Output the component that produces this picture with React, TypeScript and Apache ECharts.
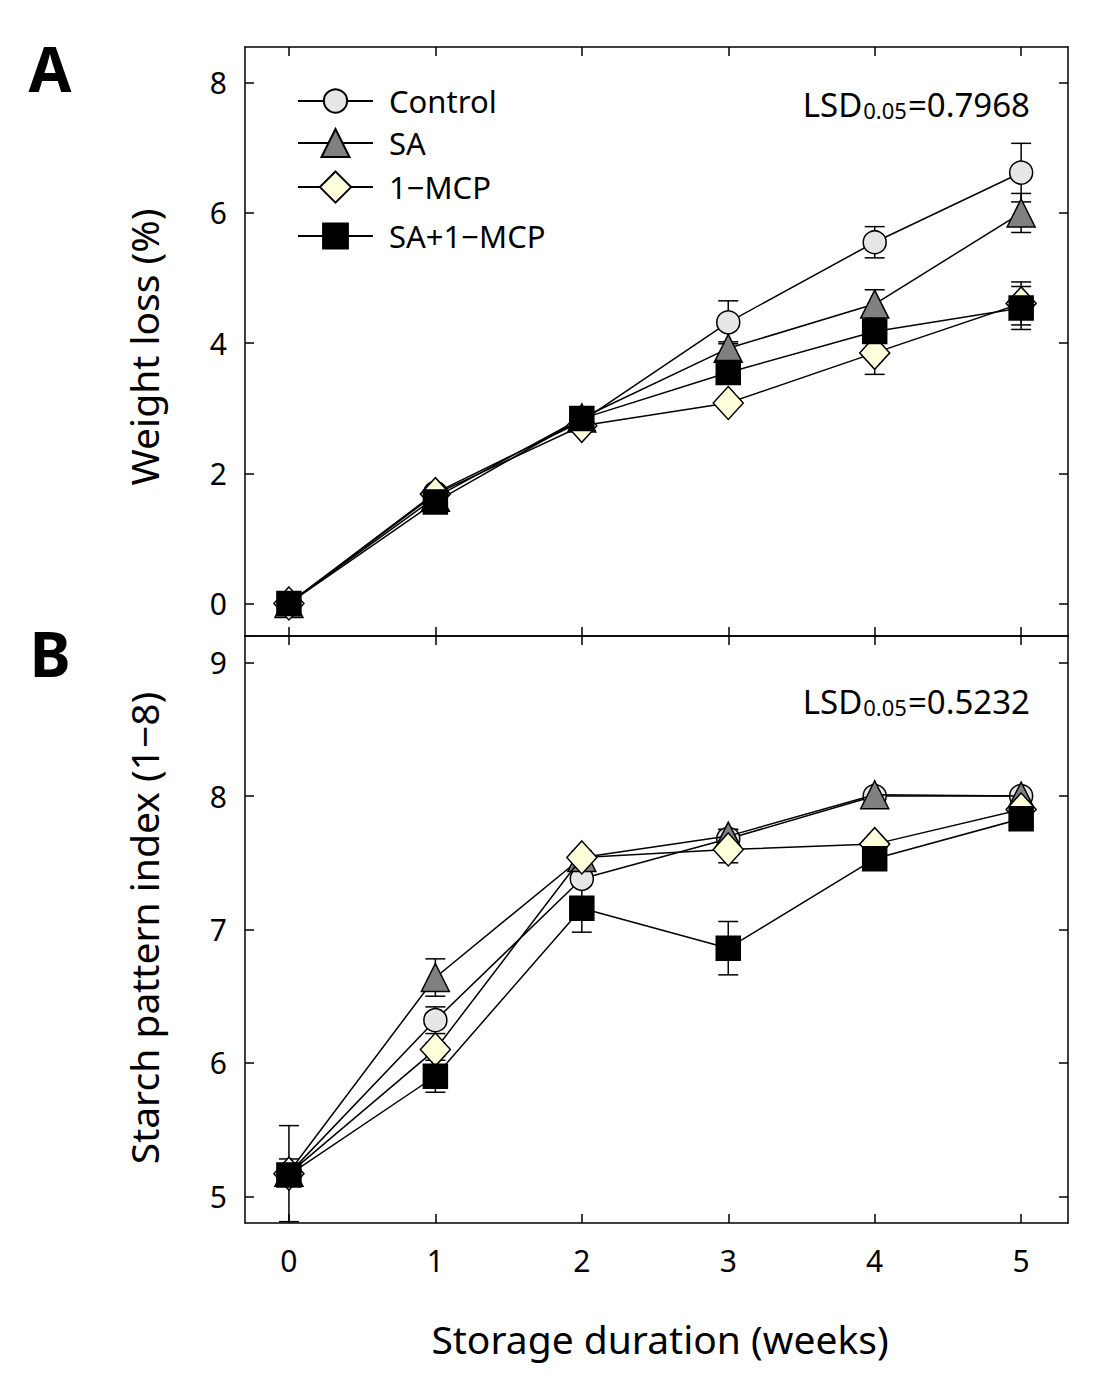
import React, { useEffect, useRef } from "react";
import * as echarts from "echarts";

const weeks = [0, 1, 2, 3, 4, 5];
const seriesNames = ["Control", "SA", "1\u2212MCP", "SA+1\u2212MCP"];

// Panel A: weight loss (%)
const wlControl = [0, 1.7, 2.8, 4.32, 5.55, 6.62];
const wlSA = [0, 1.63, 2.85, 3.92, 4.6, 6.0];
const wlMCP = [0, 1.68, 2.73, 3.08, 3.85, 4.61];
const wlSAMCP = [0, 1.56, 2.84, 3.55, 4.18, 4.54];
const wlControlErr = [0.05, 0.05, 0.05, 0.33, 0.24, 0.45];
const wlSAErr = [0.05, 0.05, 0.05, 0.1, 0.22, 0.3];
const wlMCPErr = [0.05, 0.05, 0.05, 0.05, 0.33, 0.33];
const wlSAMCPErr = [0.05, 0.05, 0.05, 0.15, 0.1, 0.33];

// Panel B: starch pattern index (1-8)
const spControl = [5.17, 6.32, 7.38, 7.68, 8.0, 8.0];
const spSA = [5.18, 6.64, 7.54, 7.7, 8.01, 8.0];
const spMCP = [5.17, 6.1, 7.54, 7.6, 7.64, 7.9];
const spSAMCP = [5.16, 5.9, 7.16, 6.86, 7.53, 7.83];
const spControlErr = [0.36, 0.1, 0.05, 0.07, 0.02, 0.02];
const spSAErr = [0.1, 0.14, 0.05, 0.05, 0.02, 0.02];
const spMCPErr = [0.05, 0.05, 0.05, 0.1, 0.03, 0.03];
const spSAMCPErr = [0.05, 0.12, 0.18, 0.2, 0.05, 0.03];

const xTicks = [0, 1, 2, 3, 4, 5];
const wlTicks = [0, 2, 4, 6, 8];
const spTicks = [5, 6, 7, 8, 9];

const lsdA = "0.7968";
const lsdB = "0.5232";

const FONT = "Noto Sans";

const styles = [
  { symbol: "circle", size: 23, fill: "#e6e6e6", legendH: 29 },
  { symbol: "triangle", size: 28, fill: "#808080", legendH: 35 },
  { symbol: "diamond", size: [30, 33], fill: "#ffffdc", legendH: 39 },
  { symbol: "rect", size: 24, fill: "#000000", legendH: 31 },
];

export default function App() {
  const ref = useRef<HTMLDivElement>(null);

  useEffect(() => {
    if (!ref.current) return;
    const chart = echarts.init(ref.current, null, { renderer: "svg" });

    const wlVals = [wlControl, wlSA, wlMCP, wlSAMCP];
    const wlErrs = [wlControlErr, wlSAErr, wlMCPErr, wlSAMCPErr];
    const spVals = [spControl, spSA, spMCP, spSAMCP];
    const spErrs = [spControlErr, spSAErr, spMCPErr, spSAMCPErr];

    const axisLine = { show: true, onZero: false, lineStyle: { color: "#000", width: 1.5 } };
    const tickStyle = { color: "#000", width: 1.5 };
    const labelStyle = { color: "#000", fontSize: 30, fontFamily: FONT };

    const xMin = -0.3;
    const xMax = 5.32;

    const mkX = (grid: number, pos: "bottom" | "top", showLabel: boolean) => ({
      type: "value",
      gridIndex: grid,
      position: pos,
      min: xMin,
      max: xMax,
      axisLine,
      axisTick: { show: true, inside: true, length: 9, lineStyle: tickStyle, customValues: xTicks },
      axisLabel: { show: showLabel, ...labelStyle, margin: 22, customValues: xTicks },
      splitLine: { show: false },
    });
    const mkY = (grid: number, pos: "left" | "right", min: number, max: number, ticks: number[], showLabel: boolean) => ({
      type: "value",
      gridIndex: grid,
      position: pos,
      min,
      max,
      axisLine,
      axisTick: { show: true, inside: true, length: 9, lineStyle: tickStyle, customValues: ticks },
      axisLabel: { show: showLabel, ...labelStyle, margin: 18, customValues: ticks },
      splitLine: { show: false },
    });

    const errSeries = (vals: number[][], errs: number[][], xi: number, yi: number) =>
      vals.map((v, si) => ({
        type: "custom",
        xAxisIndex: xi,
        yAxisIndex: yi,
        z: 1,
        silent: true,
        encode: { x: 0, y: 1 },
        data: weeks.map((w, i) => [w, v[i], errs[si][i]]),
        renderItem: (params: any, api: any) => {
          const x = api.value(0);
          const y = api.value(1);
          const e = api.value(2);
          const top = api.coord([x, y + e]);
          const bot = api.coord([x, y - e]);
          const cw = 10;
          const st = { stroke: "#000", lineWidth: 1.5 };
          return {
            type: "group",
            children: [
              { type: "line", shape: { x1: top[0], y1: top[1], x2: bot[0], y2: bot[1] }, style: st },
              { type: "line", shape: { x1: top[0] - cw, y1: top[1], x2: top[0] + cw, y2: top[1] }, style: st },
              { type: "line", shape: { x1: bot[0] - cw, y1: bot[1], x2: bot[0] + cw, y2: bot[1] }, style: st },
            ],
          };
        },
      }));

    const lineSeries = (vals: number[][], xi: number, yi: number) =>
      vals.map((v, si) => ({
        type: "line",
        name: seriesNames[si],
        xAxisIndex: xi,
        yAxisIndex: yi,
        z: 2 + si,
        data: weeks.map((w, i) => [w, v[i]]),
        symbol: styles[si].symbol,
        symbolSize: styles[si].size,
        showAllSymbol: true,
        lineStyle: { color: "#000", width: 1.5 },
        itemStyle: { color: styles[si].fill, borderColor: "#000", borderWidth: 1.5 },
        emphasis: { disabled: true },
      }));

    const legendCenters = [100, 145, 190, 236];
    const legends = seriesNames.map((n, i) => ({
      data: [n],
      orient: "vertical",
      left: 297,
      top: legendCenters[i] - styles[i].legendH / 2,
      padding: 0,
      itemWidth: 75,
      itemHeight: styles[i].legendH,
      selectedMode: false,
      textStyle: { color: "#000", fontSize: 31, fontFamily: FONT, padding: [0, 0, 0, 11] },
    }));

    const lsdText = (val: string, y: number) => ({
      type: "text",
      x: 1030,
      y,
      style: {
        text: `{a|LSD}{b|0.05}{a|=${val}}`,
        align: "right",
        verticalAlign: "middle",
        rich: {
          a: { fontSize: 33, fontFamily: FONT, fill: "#000", lineHeight: 40, verticalAlign: "bottom" },
          b: { fontSize: 22, fontFamily: FONT, fill: "#000", lineHeight: 38, verticalAlign: "bottom", padding: [0, 1, 0, 1] },
        },
      },
    });

    const option: any = {
      animation: false,
      backgroundColor: "#fff",
      grid: [
        { left: 245, top: 47, width: 823, height: 589 },
        { left: 245, top: 636, width: 823, height: 587 },
      ],
      xAxis: [mkX(0, "bottom", false), mkX(0, "top", false), mkX(1, "bottom", true), mkX(1, "top", false)],
      yAxis: [
        mkY(0, "left", -0.5, 8.55, wlTicks, true),
        mkY(0, "right", -0.5, 8.55, wlTicks, false),
        mkY(1, "left", 4.8, 9.2, spTicks, true),
        mkY(1, "right", 4.8, 9.2, spTicks, false),
      ],
      legend: legends,
      series: [
        ...errSeries(wlVals, wlErrs, 0, 0),
        ...errSeries(spVals, spErrs, 2, 2),
        ...lineSeries(wlVals, 0, 0),
        ...lineSeries(spVals, 2, 2),
      ],
      graphic: [
        { type: "text", x: 50, y: 68, style: { text: "A", fontSize: 62, fontWeight: "bold", fontFamily: FONT, fill: "#000", align: "center", verticalAlign: "middle" } },
        { type: "text", x: 50, y: 653, style: { text: "B", fontSize: 62, fontWeight: "bold", fontFamily: FONT, fill: "#000", align: "center", verticalAlign: "middle" } },
        { type: "text", x: 143, y: 347, rotation: Math.PI / 2, style: { text: "Weight loss (%)", fontSize: 39, fontFamily: FONT, fill: "#000", align: "center", verticalAlign: "middle" } },
        { type: "text", x: 143, y: 928, rotation: Math.PI / 2, style: { text: "Starch pattern index (1\u22128)", fontSize: 39, fontFamily: FONT, fill: "#000", align: "center", verticalAlign: "middle" } },
        { type: "text", x: 660, y: 1338, style: { text: "Storage duration (weeks)", fontSize: 39, fontFamily: FONT, fill: "#000", align: "center", verticalAlign: "middle" } },
        lsdText(lsdA, 101),
        lsdText(lsdB, 698),
      ],
    };

    chart.setOption(option);
    return () => chart.dispose();
  }, []);

  return <div ref={ref} style={{ position: "absolute", left: 0, top: 0, width: 1111, height: 1400 }} />;
}
